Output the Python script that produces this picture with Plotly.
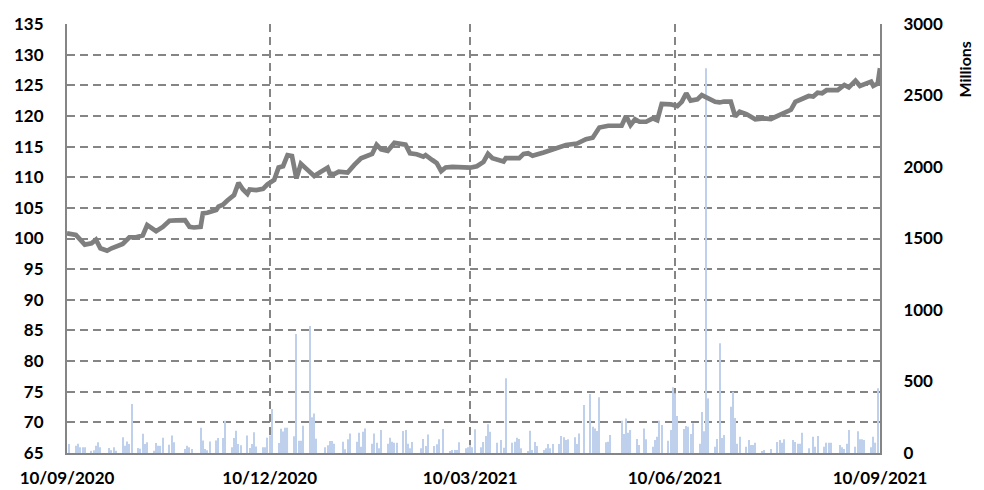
import plotly.graph_objects as go

# price index (left axis)
line_dates = [
    "2020-09-10", "2020-09-14", "2020-09-18", "2020-09-21", "2020-09-23", "2020-09-25",
    "2020-09-28", "2020-09-30", "2020-10-05", "2020-10-08", "2020-10-11", "2020-10-14",
    "2020-10-16", "2020-10-18", "2020-10-20", "2020-10-23", "2020-10-26", "2020-10-29",
    "2020-11-02", "2020-11-04", "2020-11-06", "2020-11-09", "2020-11-10", "2020-11-12",
    "2020-11-16", "2020-11-17", "2020-11-19", "2020-11-21", "2020-11-24", "2020-11-26",
    "2020-11-28", "2020-11-30", "2020-12-01", "2020-12-04", "2020-12-07", "2020-12-09",
    "2020-12-12", "2020-12-14", "2020-12-16", "2020-12-18", "2020-12-20", "2020-12-22",
    "2020-12-24", "2020-12-27", "2020-12-30", "2021-01-02", "2021-01-05", "2021-01-06",
    "2021-01-08", "2021-01-10", "2021-01-14", "2021-01-17", "2021-01-20", "2021-01-25",
    "2021-01-27", "2021-01-29", "2021-02-01", "2021-02-04", "2021-02-09", "2021-02-11",
    "2021-02-14", "2021-02-17", "2021-02-18", "2021-02-21", "2021-02-23", "2021-02-25",
    "2021-02-27", "2021-03-02", "2021-03-06", "2021-03-10", "2021-03-13", "2021-03-16",
    "2021-03-18", "2021-03-20", "2021-03-25", "2021-03-26", "2021-04-01", "2021-04-03",
    "2021-04-05", "2021-04-07", "2021-04-12", "2021-04-18", "2021-04-22", "2021-04-27",
    "2021-05-01", "2021-05-04", "2021-05-07", "2021-05-11", "2021-05-17", "2021-05-19",
    "2021-05-21", "2021-05-23", "2021-05-25", "2021-05-28", "2021-05-31", "2021-06-02",
    "2021-06-04", "2021-06-08", "2021-06-11", "2021-06-13", "2021-06-15", "2021-06-17",
    "2021-06-20", "2021-06-22", "2021-06-25", "2021-06-28", "2021-06-30", "2021-07-02",
    "2021-07-05", "2021-07-07", "2021-07-09", "2021-07-12", "2021-07-16", "2021-07-20",
    "2021-07-23", "2021-07-27", "2021-07-29", "2021-08-01", "2021-08-03", "2021-08-05",
    "2021-08-09", "2021-08-11", "2021-08-13", "2021-08-15", "2021-08-17", "2021-08-22",
    "2021-08-25", "2021-08-27", "2021-08-30", "2021-09-01", "2021-09-06", "2021-09-07",
    "2021-09-09", "2021-09-10",
]
line_values = [
    100.85, 100.6, 99.0, 99.2, 99.8, 98.4,
    98.0, 98.4, 99.1, 100.2, 100.2, 100.5,
    102.2, 101.7, 101.2, 101.9, 102.9, 102.95,
    103.0, 101.9, 101.8, 101.9, 104.1, 104.2,
    104.65, 105.2, 105.5, 106.2, 107.1, 109.1,
    108.0, 107.3, 108.0, 107.9, 108.1, 108.85,
    109.55, 111.6, 111.8, 113.6, 113.45, 109.8,
    112.2, 111.2, 110.2, 110.9, 111.55, 110.6,
    110.5, 110.9, 110.75, 112.0, 113.1, 113.8,
    115.3, 114.55, 114.3, 115.6, 115.3, 113.9,
    113.75, 113.35, 113.6, 112.8, 112.3, 111.0,
    111.6, 111.7, 111.6, 111.55, 111.8, 112.5,
    113.8, 113.1, 112.55, 113.1, 113.1, 113.8,
    113.9, 113.5, 114.05, 114.7, 115.25, 115.5,
    116.2, 116.45, 118.1, 118.4, 118.4, 120.0,
    118.5, 119.45, 119.05, 119.05, 119.6, 119.3,
    121.95, 121.9, 121.6, 122.3, 123.7, 122.5,
    122.7, 123.4, 122.9, 122.3, 122.2, 122.35,
    122.35, 119.9, 120.7, 120.3, 119.45, 119.6,
    119.5, 120.1, 120.4, 121.0, 122.3, 122.6,
    123.25, 123.15, 123.8, 123.7, 124.2, 124.2,
    125.05, 124.65, 125.75, 124.9, 125.6, 124.9,
    125.3, 127.8,
]

# daily volume in millions (right axis)
bar_dates = [
    "2020-09-11", "2020-09-14", "2020-09-15", "2020-09-16", "2020-09-17", "2020-09-18",
    "2020-09-21", "2020-09-22", "2020-09-23", "2020-09-24", "2020-09-25", "2020-09-29",
    "2020-09-30", "2020-10-01", "2020-10-02", "2020-10-05", "2020-10-06", "2020-10-07",
    "2020-10-08", "2020-10-09", "2020-10-12", "2020-10-13", "2020-10-14", "2020-10-15",
    "2020-10-16", "2020-10-19", "2020-10-20", "2020-10-21", "2020-10-22", "2020-10-23",
    "2020-10-26", "2020-10-27", "2020-10-28", "2020-11-02", "2020-11-03", "2020-11-04",
    "2020-11-05", "2020-11-09", "2020-11-10", "2020-11-11", "2020-11-12", "2020-11-13",
    "2020-11-16", "2020-11-17", "2020-11-19", "2020-11-20", "2020-11-23", "2020-11-24",
    "2020-11-25", "2020-11-26", "2020-11-27", "2020-11-30", "2020-12-01", "2020-12-02",
    "2020-12-03", "2020-12-04", "2020-12-07", "2020-12-08", "2020-12-09", "2020-12-10",
    "2020-12-11", "2020-12-14", "2020-12-15", "2020-12-16", "2020-12-17", "2020-12-18",
    "2020-12-21", "2020-12-22", "2020-12-23", "2020-12-24", "2020-12-25", "2020-12-28",
    "2020-12-29", "2020-12-30", "2020-12-31", "2021-01-04", "2021-01-05", "2021-01-06",
    "2021-01-07", "2021-01-08", "2021-01-12", "2021-01-13", "2021-01-14", "2021-01-15",
    "2021-01-18", "2021-01-19", "2021-01-20", "2021-01-21", "2021-01-22", "2021-01-25",
    "2021-01-26", "2021-01-27", "2021-01-28", "2021-01-29", "2021-02-01", "2021-02-02",
    "2021-02-03", "2021-02-04", "2021-02-05", "2021-02-08", "2021-02-09", "2021-02-10",
    "2021-02-11", "2021-02-12", "2021-02-16", "2021-02-17", "2021-02-18", "2021-02-19",
    "2021-02-22", "2021-02-23", "2021-02-24", "2021-02-26", "2021-03-01", "2021-03-02",
    "2021-03-03", "2021-03-04", "2021-03-05", "2021-03-08", "2021-03-09", "2021-03-10",
    "2021-03-11", "2021-03-12", "2021-03-15", "2021-03-16", "2021-03-17", "2021-03-18",
    "2021-03-19", "2021-03-22", "2021-03-24", "2021-03-25", "2021-03-26", "2021-03-29",
    "2021-03-30", "2021-03-31", "2021-04-01", "2021-04-02", "2021-04-05", "2021-04-06",
    "2021-04-07", "2021-04-08", "2021-04-09", "2021-04-12", "2021-04-13", "2021-04-14",
    "2021-04-15", "2021-04-16", "2021-04-19", "2021-04-20", "2021-04-21", "2021-04-22",
    "2021-04-23", "2021-04-26", "2021-04-27", "2021-04-28", "2021-04-30", "2021-05-03",
    "2021-05-04", "2021-05-05", "2021-05-06", "2021-05-07", "2021-05-10", "2021-05-11",
    "2021-05-12", "2021-05-17", "2021-05-18", "2021-05-19", "2021-05-20", "2021-05-21",
    "2021-05-24", "2021-05-25", "2021-05-27", "2021-05-28", "2021-05-31", "2021-06-01",
    "2021-06-02", "2021-06-03", "2021-06-04", "2021-06-07", "2021-06-08", "2021-06-09",
    "2021-06-10", "2021-06-11", "2021-06-14", "2021-06-15", "2021-06-16", "2021-06-17",
    "2021-06-18", "2021-06-21", "2021-06-22", "2021-06-23", "2021-06-24", "2021-06-25",
    "2021-06-28", "2021-06-29", "2021-06-30", "2021-07-01", "2021-07-02", "2021-07-05",
    "2021-07-06", "2021-07-07", "2021-07-08", "2021-07-09", "2021-07-12", "2021-07-13",
    "2021-07-14", "2021-07-15", "2021-07-16", "2021-07-19", "2021-07-20", "2021-07-23",
    "2021-07-26", "2021-07-27", "2021-07-28", "2021-07-29", "2021-08-02", "2021-08-03",
    "2021-08-04", "2021-08-05", "2021-08-06", "2021-08-09", "2021-08-11", "2021-08-12",
    "2021-08-13", "2021-08-16", "2021-08-17", "2021-08-18", "2021-08-19", "2021-08-23",
    "2021-08-24", "2021-08-25", "2021-08-26", "2021-08-27", "2021-08-30", "2021-08-31",
    "2021-09-01", "2021-09-02", "2021-09-03", "2021-09-06", "2021-09-07", "2021-09-08",
    "2021-09-09",
]
bar_values = [
    63, 50, 65, 40, 40, 40,
    15, 20, 50, 75, 40, 35,
    20, 40, 15, 110, 50, 80,
    63, 343, 35, 30, 135, 63,
    75, 15, 70, 50, 50, 107,
    58, 123, 75, 28, 50, 40,
    28, 177, 88, 28, 20, 80,
    88, 105, 105, 226, 40, 105,
    155, 63, 55, 123, 35, 63,
    145, 45, 40, 40, 107, 123,
    308, 70, 170, 150, 177, 177,
    117, 832, 85, 85, 190, 888,
    250, 277, 100, 40, 55, 84,
    84, 64, 79, 26, 96, 137,
    79, 142, 44, 149, 172, 65,
    137, 72, 33, 161, 65, 107,
    79, 72, 72, 154, 161, 65,
    33, 77, 33, 98, 49, 130,
    49, 61, 96, 168, 14, 21,
    21, 21, 75, 33, 40, 56,
    40, 166, 40, 77, 119, 201,
    149, 72, 91, 37, 522, 72,
    79, 107, 98, 33, 14, 156,
    21, 77, 49, 21, 33, 63,
    33, 63, 63, 119, 110, 91,
    96, 110, 63, 137, 336, 413,
    184, 172, 154, 390, 75, 79,
    126, 226, 133, 242, 142, 161,
    98, 56, 172, 96, 44, 91,
    114, 226, 196, 86, 161, 459,
    417, 259, 168, 189, 184, 133,
    208, 65, 287, 152, 2690, 382,
    44, 98, 767, 105, 126, 324,
    429, 245, 65, 114, 44, 91,
    56, 56, 72, 14, 21, 28,
    77, 91, 72, 96, 91, 77,
    65, 65, 142, 33, 114, 44,
    119, 44, 72, 72, 72, 56,
    40, 28, 65, 161, 44, 152,
    96, 96, 91, 40, 114, 72,
    452,
]

tick_dates = ["2020-09-10", "2020-12-10", "2021-03-10", "2021-06-10", "2021-09-10"]
tick_labels = ["10/09/2020", "10/12/2020", "10/03/2021", "10/06/2021", "10/09/2021"]

GRID = "#858585"
tick_font = dict(family="Lato", size=17, color="black", weight="bold")

fig = go.Figure()

# bars go on the base axis so the line (overlay axis) is drawn on top
fig.add_trace(go.Bar(
    x=bar_dates, y=bar_values,
    width=0.5 * 86400000,
    marker=dict(color="#bfd0ec", line=dict(width=0)),
    yaxis="y", hoverinfo="skip",
))
fig.add_trace(go.Scatter(
    x=line_dates, y=line_values, mode="lines",
    line=dict(color="#7f7f7f", width=4.7),
    yaxis="y2",
))

# the page body has an 8px margin, so the figure is shrunk by that much
fig.update_layout(
    width=976, height=482,
    margin=dict(l=59, r=104, t=16, b=37, autoexpand=False),
    plot_bgcolor="white", paper_bgcolor="white",
    showlegend=False,
    xaxis=dict(
        type="date",
        range=["2020-09-10", "2021-09-10"],
        tickvals=tick_dates, ticktext=tick_labels,
        showgrid=True, gridcolor=GRID, gridwidth=1.5, griddash="8px,5px",
        showline=True, linecolor=GRID, linewidth=2,
        ticks="", ticklabelstandoff=9, automargin=False,
        tickfont=tick_font,
    ),
    yaxis=dict(
        side="right", range=[0, 3000], dtick=500,
        showgrid=False, zeroline=False,
        showline=True, linecolor=GRID, linewidth=2,
        ticks="", ticklabelstandoff=18, automargin=False,
        tickfont=tick_font,
    ),
    yaxis2=dict(
        overlaying="y", anchor="x", side="left",
        range=[65, 135], dtick=5,
        showgrid=True, gridcolor=GRID, gridwidth=1.5, griddash="8px,5px",
        zeroline=False,
        showline=True, linecolor=GRID, linewidth=2,
        ticks="", ticklabelstandoff=18, automargin=False,
        tickfont=tick_font,
    ),
    annotations=[dict(
        text="Millions", textangle=-90,
        xref="paper", yref="paper", x=1.104, y=0.893,
        xanchor="center", yanchor="middle",
        showarrow=False,
        font=dict(family="Lato", size=16, color="black", weight="bold"),
    )],
)

fig.write_html("out.html")
